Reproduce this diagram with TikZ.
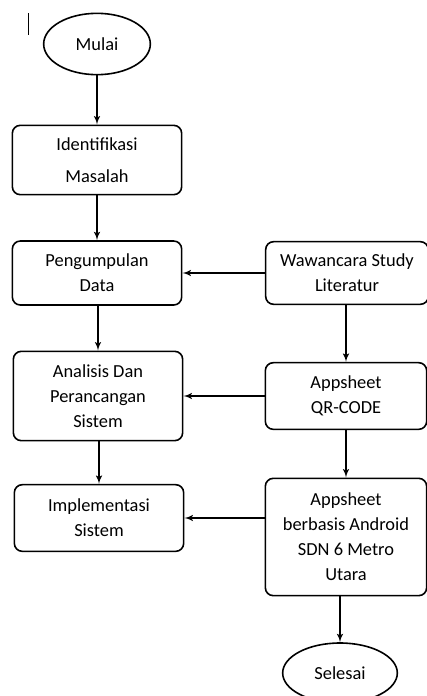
\documentclass[tikz,border=0pt]{standalone}
\usepackage{fontspec}
\setmainfont{Carlito}
\usetikzlibrary{arrows}
\usetikzlibrary{shapes.geometric}

\begin{document}
\begin{tikzpicture}[x=0.75pt,y=-0.75pt,line width=1.2pt]
        \tikzset{
          >=latex',
          every node/.style={
            font=\fontsize{13.8pt}{18.8pt}\selectfont,
            align=center,
            inner sep=0pt,
          },
          terminal/.style={
            draw,
            line width=1.2pt,
            ellipse,
            minimum width=80pt,
            minimum height=46pt,
          },
          process/.style={
            draw,
            line width=1.2pt,
            rectangle,
            rounded corners=6pt,
            minimum width=127pt,
          },
        }
        \useasboundingbox (0,0) rectangle (427,696);
        \draw[line width=0.6pt] (28,13) -- (28,35);

        \node[terminal] (mulai) at (97,44) {Mulai};
        \node[process, minimum height=52pt, font=\fontsize{13.8pt}{24pt}\selectfont] (identifikasi) at (97,160) {Identifikasi\\Masalah};
        \node[process, minimum height=48pt] (pengumpulan) at (97,273) {Pengumpulan\\Data};
        \node[process, minimum height=67pt] (analisis) at (98,396) {Analisis Dan\\Perancangan\\Sistem};
        \node[process, minimum height=50pt] (implementasi) at (99,518) {Implementasi\\Sistem};

        \node[process, minimum width=122pt, minimum height=47pt] (wawancara) at (347,273) {Wawancara Study\\Literatur};
        \node[process, minimum width=121pt, minimum height=50pt] (qrcode) at (346,396) {Appsheet\\QR-CODE};
        \node[process, minimum width=121pt, minimum height=88pt] (android) at (346,537) {Appsheet\\berbasis Android\\SDN 6 Metro\\Utara};
        \node[terminal, minimum width=86pt, minimum height=45pt] (selesai) at (340,673) {Selesai};

        \draw[->] (mulai) -- (identifikasi);
        \draw[->] (identifikasi) -- (pengumpulan);
        \draw[->] (pengumpulan.south -| analisis.north) -- (analisis);
        \draw[->] (analisis.south -| implementasi.north) -- (implementasi);
        \draw[->] (wawancara) -- (pengumpulan);
        \draw[->] (wawancara.south -| qrcode.north) -- (qrcode);
        \draw[->] (qrcode) -- (analisis);
        \draw[->] (qrcode) -- (android);
        \draw[->] (android.west |- implementasi.east) -- (implementasi.east);
        \draw[->] (android.south -| selesai.north) -- (selesai);
      \end{tikzpicture}
\end{document}
